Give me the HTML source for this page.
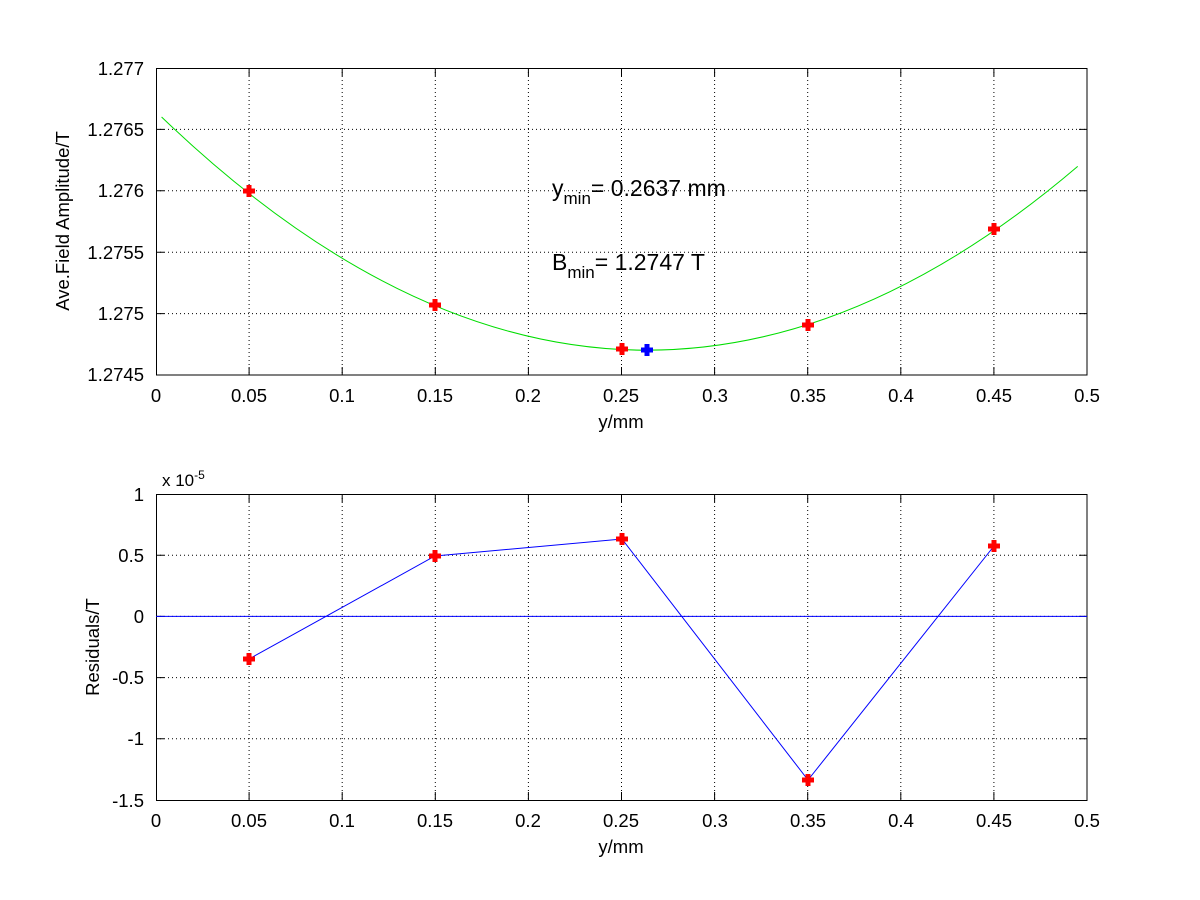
<!DOCTYPE html>
<html><head><style>body{margin:0;background:#fff}svg{display:block}</style></head><body>
<svg width="1200" height="900" xmlns="http://www.w3.org/2000/svg" font-family="Liberation Sans, Arial, sans-serif" font-size="18.5">
<rect width="1200" height="900" fill="#fff"/>
<defs>
<path id="pl" d="M-2.5,-6h5v3.5h3.5v5h-3.5v3.5h-5v-3.5h-3.5v-5h3.5z"/>
</defs>
<g stroke="#000" stroke-width="1" stroke-dasharray="1,3" fill="none">
<path d="M249.1,68V375M342.2,68V375M435.3,68V375M528.4,68V375M621.5,68V375M714.6,68V375M807.7,68V375M900.8,68V375M993.9,68V375"/>
<path d="M156,129.4H1087M156,190.8H1087M156,252.2H1087M156,313.6H1087"/>
<path d="M249.1,494V800M342.2,494V800M435.3,494V800M528.4,494V800M621.5,494V800M714.6,494V800M807.7,494V800M900.8,494V800M993.9,494V800"/>
<path d="M156,555.2H1087M156,616.4H1087M156,677.6H1087M156,738.8H1087"/>
</g>
<g stroke="#000" stroke-width="1" fill="none">
<rect x="156.5" y="68.5" width="930.5" height="306.5"/>
<rect x="156.5" y="494.5" width="930.5" height="306"/>
<path d="M249.1,375v-8M342.2,375v-8M435.3,375v-8M528.4,375v-8M621.5,375v-8M714.6,375v-8M807.7,375v-8M900.8,375v-8M993.9,375v-8M249.1,68v8M342.2,68v8M435.3,68v8M528.4,68v8M621.5,68v8M714.6,68v8M807.7,68v8M900.8,68v8M993.9,68v8"/>
<path d="M156,129.4h8M156,190.8h8M156,252.2h8M156,313.6h8M1087,129.4h-8M1087,190.8h-8M1087,252.2h-8M1087,313.6h-8"/>
<path d="M249.1,800v-8M342.2,800v-8M435.3,800v-8M528.4,800v-8M621.5,800v-8M714.6,800v-8M807.7,800v-8M900.8,800v-8M993.9,800v-8M249.1,494v8M342.2,494v8M435.3,494v8M528.4,494v8M621.5,494v8M714.6,494v8M807.7,494v8M900.8,494v8M993.9,494v8"/>
<path d="M156,555.2h8M156,616.4h8M156,677.6h8M156,738.8h8M1087,555.2h-8M1087,616.4h-8M1087,677.6h-8M1087,738.8h-8"/>
</g>
<path d="M161.6,117 Q619.65,557.2 1077.7,166.4" stroke="#00dd00" stroke-width="1" fill="none"/>
<g fill="#f00">
<use href="#pl" x="249" y="191"/><use href="#pl" x="435" y="305"/><use href="#pl" x="622" y="349"/><use href="#pl" x="808" y="325"/><use href="#pl" x="994" y="229"/>
</g>
<use href="#pl" x="647" y="350" fill="#00f"/>
<g text-anchor="middle">
<text x="156" y="402">0</text><text x="249" y="402">0.05</text><text x="342" y="402">0.1</text><text x="435" y="402">0.15</text><text x="528" y="402">0.2</text><text x="621" y="402">0.25</text><text x="715" y="402">0.3</text><text x="808" y="402">0.35</text><text x="901" y="402">0.4</text><text x="994" y="402">0.45</text><text x="1087" y="402">0.5</text>
<text x="621" y="428">y/mm</text>
<text x="156" y="827">0</text><text x="249" y="827">0.05</text><text x="342" y="827">0.1</text><text x="435" y="827">0.15</text><text x="528" y="827">0.2</text><text x="621" y="827">0.25</text><text x="715" y="827">0.3</text><text x="808" y="827">0.35</text><text x="901" y="827">0.4</text><text x="994" y="827">0.45</text><text x="1087" y="827">0.5</text>
<text x="621" y="853">y/mm</text>
</g>
<g text-anchor="end">
<text x="144" y="75">1.277</text><text x="144" y="136">1.2765</text><text x="144" y="197">1.276</text><text x="144" y="259">1.2755</text><text x="144" y="320">1.275</text><text x="144" y="381">1.2745</text>
<text x="144" y="501">1</text><text x="144" y="562">0.5</text><text x="144" y="623">0</text><text x="144" y="684">-0.5</text><text x="144" y="745">-1</text><text x="144" y="807">-1.5</text>
</g>
<text x="162" y="486" font-size="17">x 10<tspan dy="-7" font-size="12">-5</tspan></text>
<text transform="translate(69,221) rotate(-90)" text-anchor="middle">Ave.Field Amplitude/T</text>
<text transform="translate(99,647) rotate(-90)" text-anchor="middle">Residuals/T</text>
<text x="552" y="196" font-size="23">y<tspan dy="8" font-size="17">min</tspan><tspan dy="-8">= 0.2637 mm</tspan></text>
<text x="552" y="270" font-size="23">B<tspan dy="8" font-size="17">min</tspan><tspan dy="-8">= 1.2747 T</tspan></text>
<path d="M156,616.4H1087" stroke="#00f" stroke-width="1"/>
<polyline points="249,659 435,556 622,539 808,780 994,546" fill="none" stroke="#00f" stroke-width="1"/>
<g fill="#f00">
<use href="#pl" x="249" y="659"/><use href="#pl" x="435" y="556"/><use href="#pl" x="622" y="539"/><use href="#pl" x="808" y="780"/><use href="#pl" x="994" y="546"/>
</g>
</svg>
</body></html>
